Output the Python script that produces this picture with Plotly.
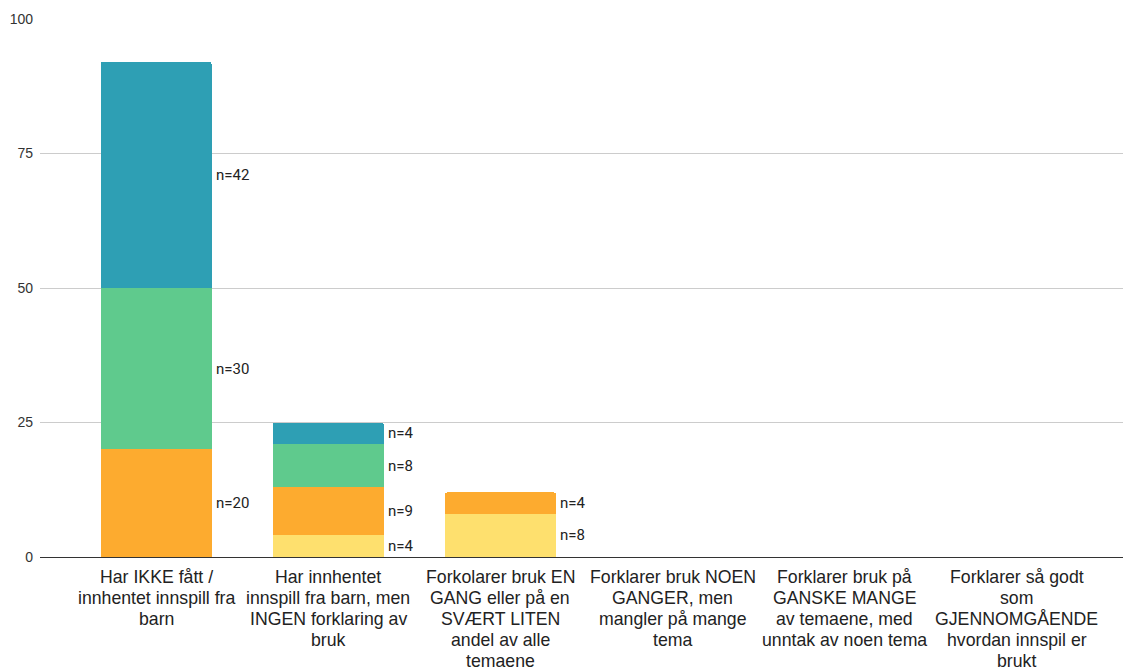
import plotly.graph_objects as go

categories = [
    "Har IKKE fått /<br>innhentet innspill fra<br>barn",
    "Har innhentet<br>innspill fra barn, men<br>INGEN forklaring av<br>bruk",
    "Forkolarer bruk EN<br>GANG eller på en<br>SVÆRT LITEN<br>andel av alle<br>temaene",
    "Forklarer bruk NOEN<br>GANGER, men<br>mangler på mange<br>tema",
    "Forklarer bruk på<br>GANSKE MANGE<br>av temaene, med<br>unntak av noen tema",
    "Forklarer så godt<br>som<br>GJENNOMGÅENDE<br>hvordan innspil er<br>brukt",
]
series_names = ["Gul", "Oransje", "Grønn", "Blågrønn"]
yellow = [0, 4, 8, 0, 0, 0]
orange = [20, 9, 4, 0, 0, 0]
green = [30, 8, 0, 0, 0, 0]
teal = [42, 4, 0, 0, 0, 0]
y_ticks = [0, 25, 50, 75, 100]

series = [yellow, orange, green, teal]
colors = ["#fee06e", "#fdab2f", "#5fca8d", "#2e9fb4"]
bar_width = 0.645

fig = go.Figure()
for name, vals, col in zip(series_names, series, colors):
    fig.add_trace(go.Bar(
        x=categories, y=vals, name=name, marker_color=col,
        marker_line_width=0, width=bar_width, showlegend=False,
    ))

annotations = []
for i in range(len(categories)):
    base = 0
    for vals in series:
        v = vals[i]
        if v > 0:
            annotations.append(dict(
                x=i + bar_width / 2, y=base + v / 2, xref="x", yref="y",
                text=f"n={v}", showarrow=False, xanchor="left", yanchor="middle",
                xshift=2, font=dict(family="Roboto", size=15, color="#222222"),
            ))
        base += v

# category labels, one annotation per line for tighter line spacing
for i, cat in enumerate(categories):
    for k, line in enumerate(cat.split("<br>")):
        annotations.append(dict(
            x=i, y=0, xref="x", yref="y", text=line, showarrow=False,
            xanchor="center", yanchor="middle", yshift=-(20 + 21 * k),
            font=dict(family="Liberation Sans, Arial", size=17.7, color="#222222"),
        ))

fig.update_layout(
    barmode="stack",
    barcornerradius=2,
    width=1123, height=667,
    margin=dict(l=40, r=0, t=19, b=110),
    plot_bgcolor="white", paper_bgcolor="white",
    annotations=annotations,
    font=dict(family="Liberation Sans, Arial", color="#222222"),
)
fig.update_xaxes(
    type="category", range=[-0.674, 5.616], showgrid=False,
    showline=True, linecolor="#333333", linewidth=1,
    ticks="", showticklabels=False, automargin=False,
)
fig.update_yaxes(
    range=[0, 100], tickvals=y_ticks, showgrid=True, gridcolor="#cccccc", gridwidth=1,
    zeroline=False, ticks="", ticklabelstandoff=6, automargin=False,
    tickfont=dict(family="Liberation Sans, Arial", size=14, color="#333333"),
)

fig.write_html("out.html")
